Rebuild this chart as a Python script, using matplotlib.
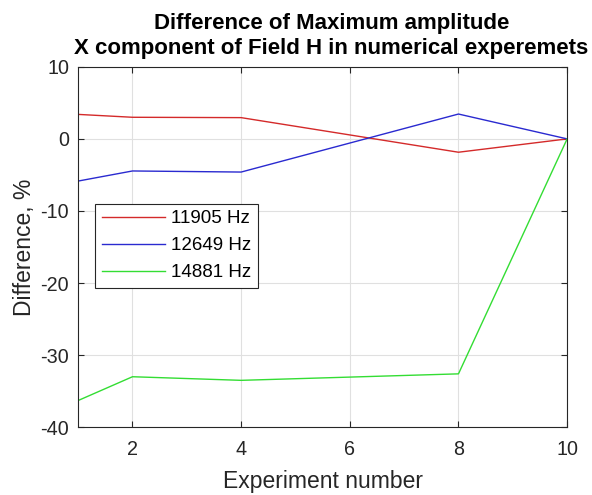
import matplotlib
matplotlib.use('Agg')
import matplotlib.pyplot as plt

experiments = [1, 2, 4, 8, 10]
diff_11905 = [3.4, 3.0, 2.95, -1.85, 0.0]
diff_12649 = [-5.85, -4.45, -4.6, 3.45, 0.0]
diff_14881 = [-36.3, -33.0, -33.5, -32.6, 0.0]
labels = ['11905 Hz', '12649 Hz', '14881 Hz']

plt.rcParams['font.family'] = ['Liberation Sans', 'DejaVu Sans']
plt.rcParams['axes.unicode_minus'] = False

fig = plt.figure(figsize=(5.92, 4.95), dpi=100)
ax = fig.add_axes([0.132, 0.137, 0.826, 0.728])

ax.plot(experiments, diff_11905, color='#d42a2a', lw=1.0, label=labels[0])
ax.plot(experiments, diff_12649, color='#2a2ad0', lw=1.0, label=labels[1])
ax.plot(experiments, diff_14881, color='#33dd33', lw=1.0, label=labels[2])

ax.set_xlim(1, 10)
ax.set_ylim(-40, 10)
ax.set_xticks([2, 4, 6, 8, 10])
ax.set_yticks([-40, -30, -20, -10, 0, 10])
ax.grid(True, color='#e0e0e0', lw=0.8)
ax.tick_params(direction='in', top=True, right=True, labelsize=14.2, colors='#262626', length=4)
ax.tick_params(axis='x', pad=9.5)
ax.tick_params(axis='y', pad=6.5)
for s in ax.spines.values():
    s.set_color('#262626')
    s.set_linewidth(0.8)

ax.set_xlabel('Experiment number', fontsize=16.5, color='#262626', labelpad=8)
ax.set_ylabel('Difference, %', fontsize=16.5, color='#262626', labelpad=3)
ax.set_title('Difference of Maximum amplitude\nX component of Field H in numerical experemets',
             fontsize=16, fontweight='bold', linespacing=1.25, pad=9, x=0.518)

leg = ax.legend(loc='upper left', bbox_to_anchor=(0.035, 0.62), borderaxespad=0, fontsize=13.5,
                frameon=True, fancybox=False, edgecolor='#262626', framealpha=1,
                handlelength=3.36, borderpad=0.35, labelspacing=0.52, handletextpad=0.32)
leg.get_frame().set_linewidth(0.8)

fig.savefig('out.png', dpi=100)
